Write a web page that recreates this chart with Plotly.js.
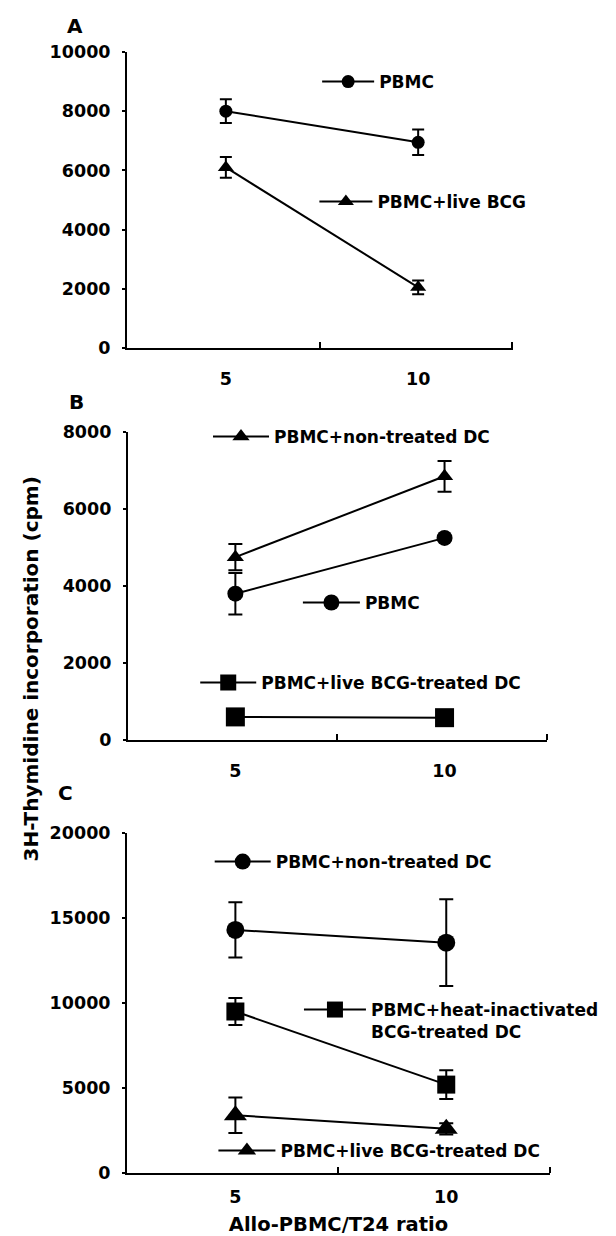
<!DOCTYPE html>
<html><head><meta charset="utf-8">
<script src="https://cdn.plot.ly/plotly-3.0.1.min.js"></script>
<style>html,body{margin:0;padding:0;background:#fff}#chart{width:616px;height:1236px}</style>
</head><body><div id="chart"></div>
<script>
// ---- data ----
const ratios = [5, 10];
const ratioLabels = ['5', '10'];

// Panel A
const aPBMC = [8000, 6950];
const aPBMCErr = [400, 430];
const aLiveBCG = [6100, 2050];
const aLiveBCGErr = [350, 230];

// Panel B
const bNonTreatedDC = [4750, 6850];
const bNonTreatedDCErr = [340, 400];
const bPBMC = [3800, 5250];
const bPBMCErr = [540, 40];
const bLiveBCGDC = [600, 580];
const bLiveBCGDCErr = [80, 80];

// Panel C
const cNonTreatedDC = [14300, 13550];
const cNonTreatedDCErr = [1630, 2550];
const cHeatBCGDC = [9500, 5200];
const cHeatBCGDCErr = [800, 850];
const cLiveBCGDC = [3400, 2600];
const cLiveBCGDCErr = [1040, 330];

const yTicksA = [0, 2000, 4000, 6000, 8000, 10000];
const yTickTextA = ['0', '2000', '4000', '6000', '8000', '10000'];
const yTicksB = [0, 2000, 4000, 6000, 8000];
const yTickTextB = ['0', '2000', '4000', '6000', '8000'];
const yTicksC = [0, 5000, 10000, 15000, 20000];
const yTickTextC = ['0', '5000', '10000', '15000', '20000'];

// ---- styling ----
const FONT = 'DejaVu Sans, sans-serif';
const BLACK = '#000';

function tr(name, y, err, xa, ya, symbol, size, legend, errW) {
  return {
    x: ratios, y: y, name: name, type: 'scatter', mode: 'lines+markers',
    xaxis: xa, yaxis: ya, legend: legend, showlegend: true,
    line: {color: BLACK, width: 2},
    marker: {symbol: symbol, size: size, color: BLACK},
    error_y: {type: 'data', array: err, visible: true, color: BLACK, thickness: 2, width: errW},
    cliponaxis: false, hoverinfo: 'skip'
  };
}

const traces = [
  tr('PBMC', aPBMC, aPBMCErr, 'x', 'y', 'circle', 13, 'legend', 6),
  tr('PBMC+live BCG', aLiveBCG, aLiveBCGErr, 'x', 'y', 'triangle-up', 14, 'legend2', 6),
  tr('PBMC+non-treated DC', bNonTreatedDC, bNonTreatedDCErr, 'x2', 'y2', 'triangle-up', 15, 'legend3', 7),
  tr('PBMC', bPBMC, bPBMCErr, 'x2', 'y2', 'circle', 16, 'legend4', 7),
  tr('PBMC+live BCG-treated DC', bLiveBCGDC, bLiveBCGDCErr, 'x2', 'y2', 'square', 19, 'legend5', 7),
  tr('PBMC+non-treated DC', cNonTreatedDC, cNonTreatedDCErr, 'x3', 'y3', 'circle', 18, 'legend6', 7),
  tr('PBMC+heat-inactivated<br>BCG-treated DC', cHeatBCGDC, cHeatBCGDCErr, 'x3', 'y3', 'square', 18, 'legend7', 7),
  tr('PBMC+live BCG-treated DC', cLiveBCGDC, cLiveBCGDCErr, 'x3', 'y3', 'triangle-up', 20, 'legend8', 7)
];

const tickFont = {family: FONT, size: 17.5, color: BLACK, weight: 'bold'};

function xax(domain, anchor, standoff) {
  return {
    domain: domain, anchor: anchor, range: [2.43, 12.46],
    tickmode: 'array', tickvals: ratios, ticktext: ratioLabels, ticks: '',
    ticklabelstandoff: standoff,
    showline: true, linecolor: BLACK, linewidth: 2, showgrid: false, zeroline: false,
    tickfont: tickFont, fixedrange: true,
    minor: {tickmode: 'array', tickvals: [7.44, 12.45], ticks: 'inside', ticklen: 6, tickwidth: 2, tickcolor: BLACK, showgrid: false}
  };
}
function yax(domain, anchor, range, tv, tt) {
  return {
    domain: domain, anchor: anchor, range: range,
    tickmode: 'array', tickvals: tv, ticktext: tt, ticks: 'outside', ticklen: 3, tickwidth: 2, tickcolor: BLACK,
    ticklabelstandoff: 8,
    showline: true, linecolor: BLACK, linewidth: 2, showgrid: false, zeroline: false,
    tickfont: tickFont, fixedrange: true
  };
}
function leg(x, y, w, extra) {
  return Object.assign({
    x: x, y: y, xanchor: 'left', yanchor: 'middle', bgcolor: 'rgba(0,0,0,0)', borderwidth: 0,
    font: {family: FONT, size: 17, color: BLACK, weight: 'bold'}, itemwidth: w,
    itemclick: false, itemdoubleclick: false, tracegroupgap: 0
  }, extra || {});
}
function label(text, x, y, size, angle) {
  return {text: text, xref: 'paper', yref: 'paper', x: x, y: y, xanchor: 'center', yanchor: 'middle',
    textangle: angle || 0, showarrow: false, font: {family: FONT, size: size, color: BLACK, weight: 'bold'}};
}

const layout = {
  width: 616, height: 1236,
  margin: {l: 127, r: 24, t: 52, b: 63},
  paper_bgcolor: '#fff', plot_bgcolor: 'rgba(0,0,0,0)',
  font: {family: FONT, color: BLACK},
  xaxis: xax([0, 0.912], 'y', 14),
  yaxis: yax([0.73595, 1], 'x', [0, 10000], yTicksA, yTickTextA),
  xaxis2: xax([0.002, 0.994], 'y2', 14),
  yaxis2: yax([0.38626, 0.66102], 'x2', [0, 8000], yTicksB, yTickTextB),
  xaxis3: Object.assign(xax([0, 1], 'y3', 7), {
    title: {text: 'Allo-PBMC/T24 ratio', font: {family: FONT, size: 19.5, color: BLACK, weight: 'bold'}, standoff: 12}
  }),
  yaxis3: yax([0, 0.3033], 'x3', [0, 20000], yTicksC, yTickTextC),
  legend:  leg(0.4495, 0.9732, 52),
  legend2: leg(0.443, 0.8662, 53),
  legend3: leg(0.1915, 0.6566, 56),
  legend4: leg(0.404, 0.5085, 57),
  legend5: leg(0.1613, 0.4371, 56),
  legend6: leg(0.1955, 0.2774, 56),
  legend7: leg(0.4065, 0.1356, 62, {valign: 'top'}),
  legend8: leg(0.2043, 0.0196, 57),
  annotations: [
    label('A', -0.1226, 1.0232, 20),
    label('B', -0.1204, 0.6878, 20),
    label('C', -0.1462, 0.339, 20),
    label('3H-Thymidine incorporation (cpm)', -0.226, 0.4496, 20, -90)
  ]
};

Plotly.newPlot('chart', traces, layout, {staticPlot: true, displayModeBar: false});
</script>
</body></html>
